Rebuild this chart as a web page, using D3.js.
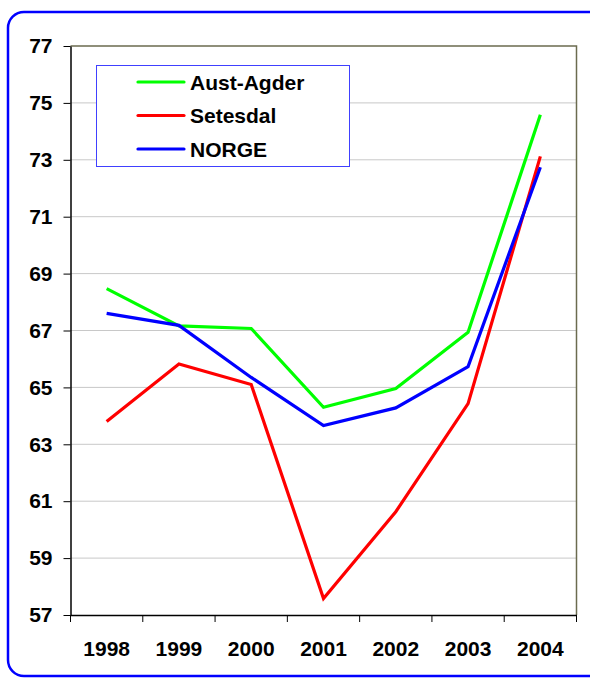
<!DOCTYPE html>
<html>
<head>
<meta charset="utf-8">
<script src="https://d3js.org/d3.v7.min.js"></script>
<style>
body { margin: 0; background: #fff; }
svg { display: block; font-family: Arial, 'Liberation Sans', sans-serif; }
</style>
</head>
<body>
<svg></svg>
<script>
const years = ["1998", "1999", "2000", "2001", "2002", "2003", "2004"];
const austAgder = [68.47, 67.16, 67.07, 64.3, 64.96, 66.94, 74.58];
const setesdal = [63.8, 65.82, 65.1, 57.58, 60.63, 64.43, 73.12];
const norge = [67.6, 67.18, 65.35, 63.66, 64.28, 65.73, 72.74];
const yTicks = [57, 59, 61, 63, 65, 67, 69, 71, 73, 75, 77];

const series = [
  { name: "Aust-Agder", color: "#00ff00", values: austAgder },
  { name: "Setesdal", color: "#ff0000", values: setesdal },
  { name: "NORGE", color: "#0000ff", values: norge }
];

const width = 590, height = 678;
const svg = d3.select("svg").attr("width", width).attr("height", height);

// outer rounded frame
svg.append("rect")
  .attr("x", 8).attr("y", 12)
  .attr("width", 600).attr("height", 664)
  .attr("rx", 16)
  .attr("fill", "#fff")
  .attr("stroke", "#0000ff")
  .attr("stroke-width", 2.5);

const plot = { left: 70.5, right: 576.5, top: 46, bottom: 615 };

const x = d3.scaleBand()
  .domain(years)
  .range([plot.left, plot.right]);

const y = d3.scaleLinear()
  .domain([57, 77])
  .range([plot.bottom, plot.top]);

// gridlines
svg.append("g")
  .selectAll("line")
  .data(yTicks.slice(1, -1))
  .join("line")
  .attr("x1", plot.left).attr("x2", plot.right)
  .attr("y1", d => y(d)).attr("y2", d => y(d))
  .attr("stroke", "#c8c8c8")
  .attr("stroke-width", 1);

// plot frame (top and right)
svg.append("path")
  .attr("d", `M${plot.left},${plot.top}H${plot.right}V${plot.bottom}`)
  .attr("fill", "none")
  .attr("stroke", "#6b6b4f")
  .attr("stroke-width", 1.5);

// y axis
const yAxis = svg.append("g")
  .attr("transform", `translate(${plot.left},0)`)
  .call(d3.axisLeft(y).tickValues(yTicks).tickSize(7).tickPadding(11).tickSizeOuter(0));
yAxis.select(".domain").attr("stroke", "#000").attr("stroke-width", 1.5);
yAxis.selectAll(".tick line").attr("stroke", "#000");
yAxis.selectAll("text")
  .attr("font-size", 21).attr("font-weight", "bold")
  .attr("font-family", "Arial, 'Liberation Sans', sans-serif")
  .attr("fill", "#000");

// x axis
const xAxis = svg.append("g")
  .attr("transform", `translate(0,${plot.bottom})`)
  .call(d3.axisBottom(x).tickSize(0).tickPadding(26));
xAxis.select(".domain").attr("stroke", "#000").attr("stroke-width", 1.5);
xAxis.selectAll("text")
  .attr("font-size", 21).attr("font-weight", "bold")
  .attr("font-family", "Arial, 'Liberation Sans', sans-serif")
  .attr("fill", "#000");
// category boundary ticks
const bounds = years.map(d => x(d)).concat([x(years[years.length - 1]) + x.bandwidth()]);
svg.append("g")
  .selectAll("line")
  .data(bounds)
  .join("line")
  .attr("x1", d => d).attr("x2", d => d)
  .attr("y1", plot.bottom).attr("y2", plot.bottom + 7)
  .attr("stroke", "#000");

// lines
const line = d3.line()
  .x((d, i) => x(years[i]) + x.bandwidth() / 2)
  .y(d => y(d));

svg.append("g")
  .selectAll("path")
  .data(series)
  .join("path")
  .attr("d", d => line(d.values))
  .attr("fill", "none")
  .attr("stroke", d => d.color)
  .attr("stroke-width", 3.2)
  .attr("stroke-linejoin", "miter");

// legend
const legend = svg.append("g");
legend.append("rect")
  .attr("x", 96.5).attr("y", 65.5)
  .attr("width", 253).attr("height", 101)
  .attr("fill", "#fff")
  .attr("stroke", "#4040ff")
  .attr("stroke-width", 1);

const rows = legend.selectAll("g")
  .data(series)
  .join("g")
  .attr("transform", (d, i) => `translate(0,${82 + i * 33.5})`);
rows.append("line")
  .attr("x1", 138).attr("x2", 184)
  .attr("stroke", d => d.color)
  .attr("stroke-width", 3.2)
  .attr("stroke-linecap", "round");
rows.append("text")
  .attr("x", 190).attr("dy", "0.36em")
  .attr("font-size", 21).attr("font-weight", "bold")
  .text(d => d.name);
</script>
</body>
</html>
